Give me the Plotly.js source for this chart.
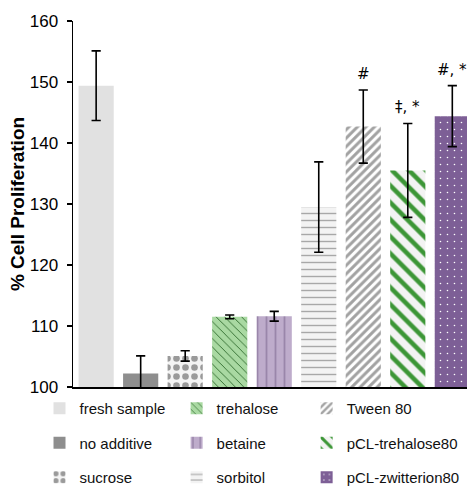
<!DOCTYPE html>
<html>
<head>
<meta charset="utf-8">
<script src="https://cdn.plot.ly/plotly-3.0.1.min.js"></script>
<style>html,body{margin:0;padding:0;background:#fff;}#chart{width:467px;height:488px;}</style>
</head>
<body>
<div id="chart"></div>
<script>
// ---- data ----
const categories = ['fresh sample', 'no additive', 'sucrose', 'trehalose', 'betaine', 'sorbitol', 'Tween 80', 'pCL-trehalose80', 'pCL-zwitterion80'];
const values = [149.4, 102.2, 105.1, 111.5, 111.6, 129.5, 142.7, 135.5, 144.4];
const errors = [5.7, 2.9, 0.85, 0.3, 0.8, 7.4, 6.0, 7.7, 5.0];
const sigLabels = ['', '', '', '', '', '', '#', '‡, *', '#, *'];
const yTicks = [100, 110, 120, 130, 140, 150, 160];

// ---- styles ----
const styles = [
  {color: '#e1e1e1', pattern: {shape: ''}},
  {color: '#8e8e8e', pattern: {shape: ''}},
  {color: '#ffffff', pattern: {shape: '.', fgcolor: '#9a9a9a', bgcolor: '#f4f4f4', size: 9, solidity: 0.42, fillmode: 'replace'}},
  {color: '#a9d9a2', pattern: {shape: '\\', fgcolor: '#256224', bgcolor: '#a9d9a2', size: 6, solidity: 0.14, fillmode: 'replace'}},
  {color: '#beaccb', pattern: {shape: '|', fgcolor: '#9a86aa', bgcolor: '#beaccb', size: 9, solidity: 0.2, fillmode: 'replace'}},
  {color: '#f3f3f3', pattern: {shape: '-', fgcolor: '#a8a8a8', bgcolor: '#f3f3f3', size: 7, solidity: 0.2, fillmode: 'replace'}},
  {color: '#ffffff', pattern: {shape: '/', fgcolor: '#a2a2a2', bgcolor: '#ffffff', size: 6, solidity: 0.5, fillmode: 'replace'}},
  {color: '#f3f3f3', pattern: {shape: '\\', fgcolor: '#3c9636', bgcolor: '#f3f3f3', size: 12, solidity: 0.38, fillmode: 'replace'}},
  {color: '#7d5f96', pattern: {shape: '.', fgcolor: '#ffffff', bgcolor: '#7d5f96', size: 7, solidity: 0.04, fillmode: 'replace'}}
];
const legendOf = ['legend', 'legend', 'legend', 'legend2', 'legend2', 'legend2', 'legend3', 'legend3', 'legend3'];

const traces = categories.map((c, i) => ({
  type: 'bar',
  x: [c],
  y: [values[i]],
  name: c,
  width: 0.79,
  legend: legendOf[i],
  legendgroup: 'g' + i,
  marker: {color: styles[i].color, pattern: styles[i].pattern, line: {width: 0}},
  error_y: {type: 'data', array: [errors[i]], visible: true, color: '#000', thickness: 1.6, width: 4.6},
  hoverinfo: 'x+y'
}));

const annotations = categories.map((c, i) => sigLabels[i] ? {
  x: c, y: values[i] + errors[i], xref: 'x', yref: 'y',
  text: sigLabels[i], showarrow: false, yanchor: 'middle', yshift: 16,
  font: {size: 15, color: '#000', family: '"DejaVu Sans", "Liberation Sans", sans-serif'}
} : null).filter(a => a);

const legendBase = {
  orientation: 'v', yanchor: 'top', xanchor: 'left', yref: 'container', y: 0.1967,
  font: {size: 15, color: '#111'}, tracegroupgap: 12, bgcolor: 'rgba(0,0,0,0)',
  itemclick: false, itemdoubleclick: false
};

const layout = {
  width: 467, height: 488,
  margin: {l: 73, r: 0, t: 21, b: 101},
  paper_bgcolor: '#fff', plot_bgcolor: '#fff',
  font: {family: 'Helvetica, Arial, "Liberation Sans", sans-serif', color: '#000'},
  barmode: 'overlay',
  showlegend: true,
  xaxis: {
    type: 'category', categoryorder: 'array', categoryarray: categories,
    range: [-0.52, 8.33], showticklabels: false, ticks: '',
    showline: true, linecolor: '#000', linewidth: 1.5, showgrid: false, zeroline: false, fixedrange: true
  },
  yaxis: {
    range: [100, 160], tickvals: yTicks, ticktext: yTicks.map(String),
    ticks: 'outside', ticklen: 5, tickwidth: 1.5, tickcolor: '#000',
    showline: true, linecolor: '#000', linewidth: 1.5, showgrid: false, zeroline: false,
    tickfont: {size: 17}, ticklabelstandoff: 5,
    title: {text: '<b>% Cell Proliferation</b>', font: {size: 19}, standoff: 0},
    fixedrange: true
  },
  legend: Object.assign({}, legendBase, {x: -0.085}),
  legend2: Object.assign({}, legendBase, {x: 0.263}),
  legend3: Object.assign({}, legendBase, {x: 0.593}),
  annotations: annotations
};

Plotly.newPlot('chart', traces, layout, {displayModeBar: false, staticPlot: true});
</script>
</body>
</html>
